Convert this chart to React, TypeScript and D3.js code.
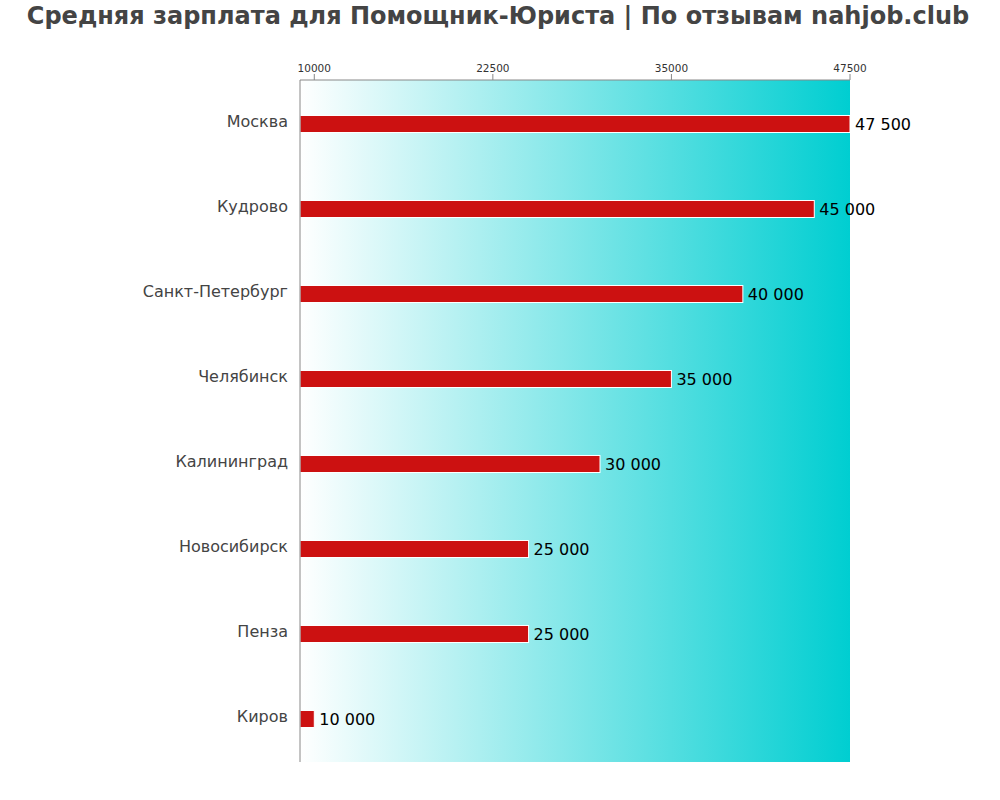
import React from "react";
import * as d3 from "d3";

const cities = ["Москва", "Кудрово", "Санкт-Петербург", "Челябинск", "Калининград", "Новосибирск", "Пенза", "Киров"];
const salaries = [47500, 45000, 40000, 35000, 30000, 25000, 25000, 10000];
const tickValues = [10000, 22500, 35000, 47500];
const title = "Средняя зарплата для Помощник-Юриста | По отзывам nahjob.club";

const W = 1000, H = 800;
const left = 300, right = 850, top = 80, bottom = 762;

export default function App() {
  const x = d3.scaleLinear().domain([9000, 47500]).range([left, right]);
  const y = d3.scaleBand<string>().domain(cities).range([81.5, 761.5]).paddingInner(0.8).paddingOuter(0.4);
  const fmt = (v: number) => d3.format(",")(v).replace(/,/g, " ");
  return (
    <svg width={W} height={H} style={{ position: "absolute", left: 0, top: 0, fontFamily: "DejaVu Sans" }}>
      <defs>
        <linearGradient id="bg" x1="0" x2="1" y1="0" y2="0">
          <stop offset="0%" stopColor="#ffffff" />
          <stop offset="100%" stopColor="#00ced1" />
        </linearGradient>
      </defs>
      <rect width={W} height={H} fill="#fff" />
      <text x={498} y={24} textAnchor="middle" fontSize={24} fontWeight="bold" fill="#444">{title}</text>
      <rect x={left} y={top} width={right - left} height={bottom - top} fill="url(#bg)" />
      {cities.map((c, i) => (
        <g key={c}>
          <rect x={x(9000)} y={y(c)!} width={x(salaries[i]) - x(9000)} height={y.bandwidth()} fill="#cc1111" stroke="#fff" strokeWidth={1} />
          <text x={left - 12} y={y(c)! + y.bandwidth() / 2} dy="0.2em" textAnchor="end" fontSize={16} fill="#444">{c}</text>
          <text x={x(salaries[i]) + 5} y={y(c)! + y.bandwidth() / 2} dy="0.4em" fontSize={16} fill="#000">{fmt(salaries[i])}</text>
        </g>
      ))}
      <line x1={left} x2={left} y1={top} y2={bottom} stroke="#888" />
      <line x1={left} x2={right} y1={top} y2={top} stroke="#888" />
      {tickValues.map(t => (
        <g key={t}>
          <line x1={x(t)} x2={x(t)} y1={top} y2={top - 6} stroke="#888" />
          <text x={x(t)} y={top - 8.5} textAnchor="middle" fontSize={10.5} fill="#333">{t}</text>
        </g>
      ))}
    </svg>
  );
}
